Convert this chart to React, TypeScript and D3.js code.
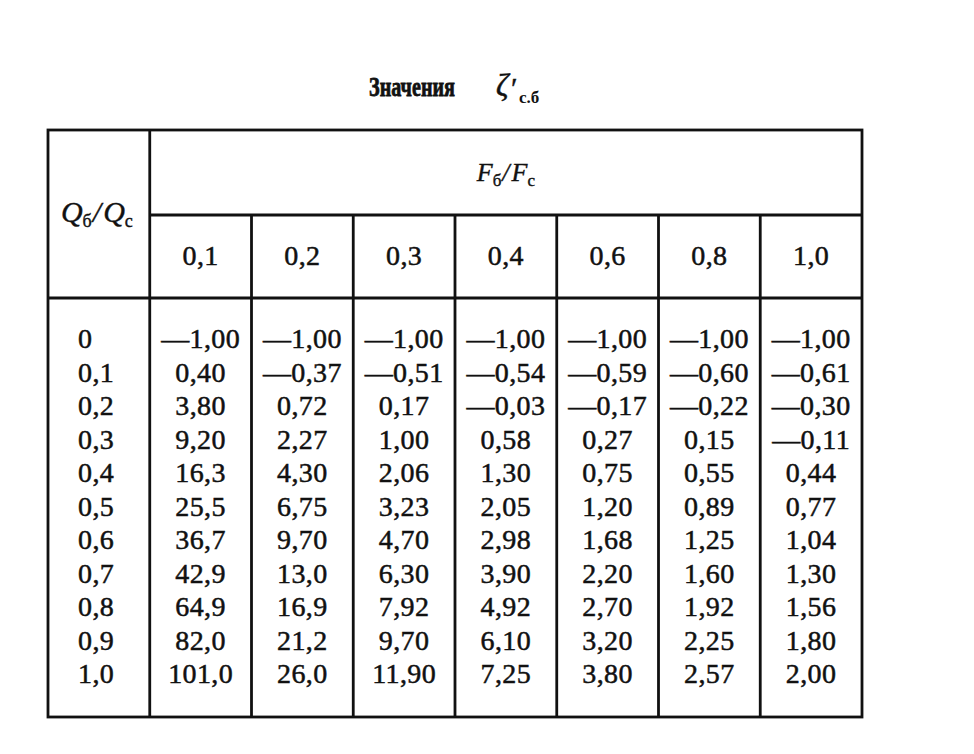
import React from 'react';
import * as d3 from 'd3';

// F_б/F_c column headers
const areaRatios = ['0,1', '0,2', '0,3', '0,4', '0,6', '0,8', '1,0'];
// Q_б/Q_c row labels
const flowRatios = ['0', '0,1', '0,2', '0,3', '0,4', '0,5', '0,6', '0,7', '0,8', '0,9', '1,0'];

// values of ζ'с.б for each F_б/F_c column
const col01 = ['—1,00', '0,40', '3,80', '9,20', '16,3', '25,5', '36,7', '42,9', '64,9', '82,0', '101,0'];
const col02 = ['—1,00', '—0,37', '0,72', '2,27', '4,30', '6,75', '9,70', '13,0', '16,9', '21,2', '26,0'];
const col03 = ['—1,00', '—0,51', '0,17', '1,00', '2,06', '3,23', '4,70', '6,30', '7,92', '9,70', '11,90'];
const col04 = ['—1,00', '—0,54', '—0,03', '0,58', '1,30', '2,05', '2,98', '3,90', '4,92', '6,10', '7,25'];
const col06 = ['—1,00', '—0,59', '—0,17', '0,27', '0,75', '1,20', '1,68', '2,20', '2,70', '3,20', '3,80'];
const col08 = ['—1,00', '—0,60', '—0,22', '0,15', '0,55', '0,89', '1,25', '1,60', '1,92', '2,25', '2,57'];
const col10 = ['—1,00', '—0,61', '—0,30', '—0,11', '0,44', '0,77', '1,04', '1,30', '1,56', '1,80', '2,00'];

const columns = [col01, col02, col03, col04, col06, col08, col10];

const W = 974;
const H = 754;
const ink = '#111';
const serif = '"Liberation Serif", "DejaVu Serif", serif';

const App: React.FC = () => {
  const top = 130;
  const headSplit = 215;
  const headBottom = 298;
  const bottom = 717;

  const x = d3.scaleBand<string>()
    .domain(['label', ...areaRatios])
    .range([48, 862]);

  const y = d3.scalePoint<string>()
    .domain(flowRatios)
    .range([348, 683]);

  const left = x.range()[0];
  const right = x.range()[1];
  const firstDiv = x(areaRatios[0])!;
  const cx = (a: string) => x(a)! + x.bandwidth() / 2;

  // a hair of stroke on the glyphs, the print is heavy
  const body = { fontSize: 28, stroke: ink, strokeWidth: 0.5, letterSpacing: '0.4px' };

  return (
    <svg width={W} height={H} style={{ position: 'absolute', left: 0, top: 0, background: '#fff' }}
      fontFamily={serif} fill={ink}>
      {/* title */}
      <g transform="translate(455,96) scale(0.72,1)">
        <text x={0} y={0} textAnchor="end" fontSize={28} fontWeight="bold"
          stroke={ink} strokeWidth={0.8}>Значения</text>
      </g>
      <text x={496} y={96} fontSize={31} fontStyle="italic" stroke={ink} strokeWidth={0.5}>ζ</text>
      <text x={511} y={98} fontSize={30} stroke={ink} strokeWidth={0.4}>′</text>
      <text x={519} y={103} fontSize={17} fontWeight="bold">с.б</text>

      {/* grid */}
      <g stroke={ink} strokeWidth={2.8} fill="none">
        <rect x={left} y={top} width={right - left} height={bottom - top} />
        <line x1={firstDiv} x2={firstDiv} y1={top} y2={bottom} />
        <line x1={firstDiv} x2={right} y1={headSplit} y2={headSplit} />
        <line x1={left} x2={right} y1={headBottom} y2={headBottom} />
        {areaRatios.slice(1).map((a) => (
          <line key={a} x1={x(a)} x2={x(a)} y1={headSplit} y2={bottom} />
        ))}
      </g>

      {/* header: Q_б/Q_c */}
      <text x={cx('label') - 2} y={222} textAnchor="middle" fontSize={30} fontStyle="italic"
        stroke={ink} strokeWidth={0.4}>
        Q<tspan fontSize={18} dy={5} fontStyle="normal">б</tspan>
        <tspan dy={-5} dx={1}>/</tspan>
        <tspan dx={2}>Q</tspan><tspan fontSize={18} dy={5} fontStyle="normal">c</tspan>
      </text>

      {/* header: F_б/F_c */}
      <text x={(firstDiv + right) / 2} y={181} textAnchor="middle" fontSize={26} fontStyle="italic"
        stroke={ink} strokeWidth={0.4}>
        F<tspan fontSize={17} dy={5} fontStyle="normal">б</tspan>
        <tspan dy={-5} dx={1}>/</tspan>
        <tspan dx={2}>F</tspan><tspan fontSize={17} dy={5} fontStyle="normal">c</tspan>
      </text>

      {/* column headers */}
      {areaRatios.map((a) => (
        <text key={a} x={cx(a)} y={265} textAnchor="middle" {...body}>{a}</text>
      ))}

      {/* row labels */}
      {flowRatios.map((q) => (
        <text key={q} x={78} y={y(q)} {...body}>{q}</text>
      ))}

      {/* values */}
      {columns.map((col, ci) => (
        <g key={areaRatios[ci]}>
          {col.map((v, ri) => (
            <text key={ri} x={cx(areaRatios[ci])} y={y(flowRatios[ri])}
              textAnchor="middle" {...body}>{v}</text>
          ))}
        </g>
      ))}
    </svg>
  );
};

export default App;
